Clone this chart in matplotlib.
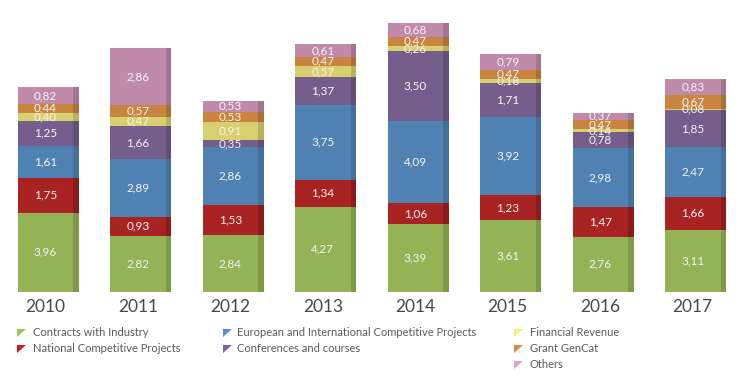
import matplotlib.pyplot as plt
from matplotlib.patches import Polygon
import numpy as np

# ------------------ DATOS ------------------
years = ["2010", "2011", "2012", "2013", "2014", "2015", "2016", "2017"]
contracts = [3.96, 2.82, 2.84, 4.27, 3.39, 3.61, 2.76, 3.11]
national = [1.75, 0.93, 1.53, 1.34, 1.06, 1.23, 1.47, 1.66]
european = [1.61, 2.89, 2.86, 3.75, 4.09, 3.92, 2.98, 2.47]
conferences = [1.25, 1.66, 0.35, 1.37, 3.50, 1.71, 0.78, 1.85]
financial = [0.40, 0.47, 0.91, 0.57, 0.26, 0.18, 0.14, 0.08]
grant = [0.44, 0.57, 0.53, 0.47, 0.47, 0.47, 0.47, 0.67]
others = [0.82, 2.86, 0.53, 0.61, 0.68, 0.79, 0.37, 0.83]

series_names = ["Contracts with Industry", "National Competitive Projects",
                "European and International Competitive Projects", "Conferences and courses",
                "Financial Revenue", "Grant GenCat", "Others"]
series = [contracts, national, european, conferences, financial, grant, others]
front_colors = ["#93b356", "#a92323", "#4f82b3", "#755e8b", "#d8d06e", "#c9843f", "#c08aab"]
side_colors = ["#7e9a48", "#8c1c1c", "#44709b", "#624f76", "#b9b25c", "#ab7035", "#a47592"]
legend_colors = ["#9bc45a", "#c81e1e", "#5b8fd0", "#7d64a0", "#f2ee7a", "#e08a3c", "#e0a0cc"]

plt.rcParams['font.family'] = ['Lato', 'DejaVu Sans']

W, H = 739, 385
base = 292
fig = plt.figure(figsize=(W / 100, H / 100), dpi=100)
ax = fig.add_axes([0, (H - base) / H, 1, base / H])

x = np.arange(len(years))
w = 0.6
side = 0.06
bottom = np.zeros(len(years))

for vals, fc, sc in zip(series, front_colors, side_colors):
    vals = np.array(vals)
    ax.bar(x, vals, w, bottom=bottom, color=fc, linewidth=0)
    ax.bar(x + w / 2 + side / 2, vals, side, bottom=bottom, color=sc, linewidth=0)
    for xi, v, b in zip(x, vals, bottom):
        ax.text(xi, b + v / 2, f"{v:.2f}".replace(".", ","), ha="center", va="center",
                color="#f4f4f4", fontsize=8.5)
    bottom += vals

ax.set_xlim(-0.49, 7.5)
ax.set_ylim(0, base / 20)
ax.set_yticks([])
ax.set_xticks(x)
ax.set_xticklabels(years, fontsize=12.5, color="#484848")
ax.tick_params(axis="x", length=0, pad=5)
for s in ax.spines.values():
    s.set_visible(False)

# ------------------ LEYENDA ------------------
cols = [(17, 33), (223, 237), (514, 530)]
slots = [(0, 0), (0, 1), (1, 0), (1, 1), (2, 0), (2, 1), (2, 2)]
for name, col, (c, r) in zip(series_names, legend_colors, slots):
    mx, tx = cols[c]
    y = 333 + r * 16
    tri = Polygon([(mx / W, 1 - (y - 4) / H), ((mx + 9) / W, 1 - (y - 4) / H), (mx / W, 1 - (y + 4) / H)],
                  closed=True, transform=fig.transFigure, color=col, linewidth=0)
    fig.patches.append(tri)
    fig.text(tx / W, 1 - y / H, name, ha="left", va="center", fontsize=8, color="#595959")

plt.savefig("out.png", dpi=100)
plt.close()
